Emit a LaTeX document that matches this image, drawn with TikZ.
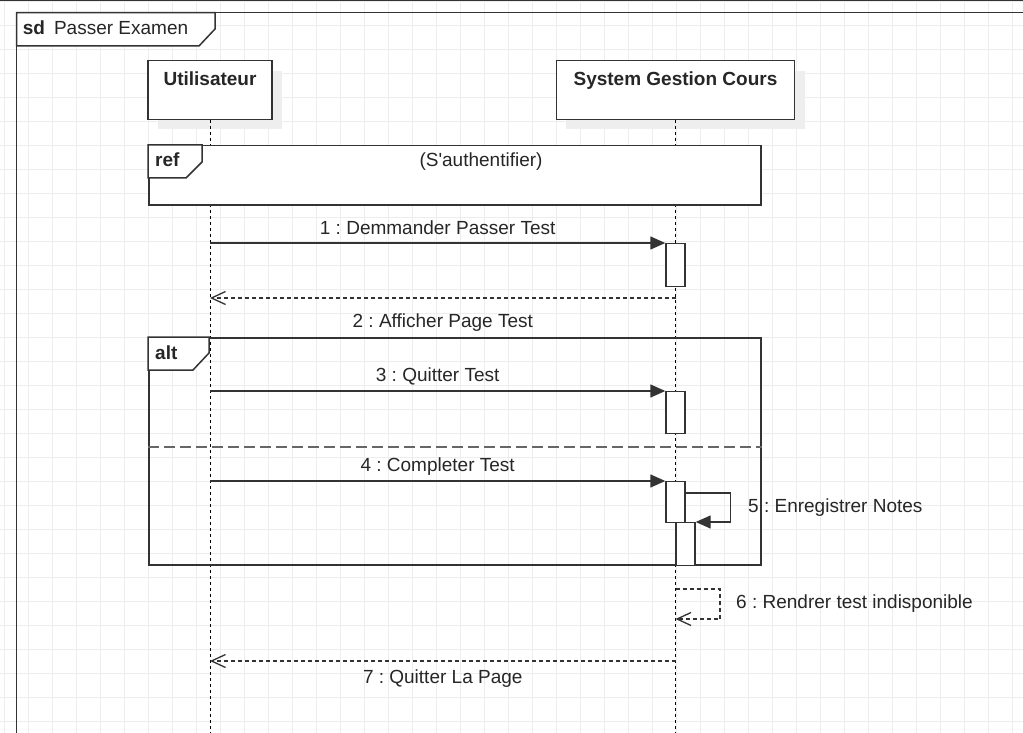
\documentclass[tikz,border=0pt]{standalone}
\usepackage{fontspec}
\setmainfont{Liberation Sans}
\usetikzlibrary{arrows.meta, positioning, calc, shadows}
\frenchspacing

\definecolor{framegray}{HTML}{333333}
\definecolor{gridgray}{HTML}{EDEDED}
\definecolor{shadowgray}{HTML}{EEEEEE}
\definecolor{sepgray}{HTML}{666666}

\begin{document}
\begin{tikzpicture}[x=1pt, y=-1pt, >=Stealth,
  umltext/.style={font=\fontsize{19}{23}\selectfont, text=black!85, inner sep=0pt, text height=13.7pt, text depth=0pt},
  umlbold/.style={umltext, font=\fontsize{19}{23}\selectfont\bfseries},
  actorbox/.style={draw=framegray, line width=1.5pt, fill=white, minimum height=58.6pt, inner sep=0pt,
    drop shadow={shadow xshift=10pt, shadow yshift=-10pt, fill=shadowgray, opacity=1}},
  actbar/.style={draw=framegray, line width=1.4pt, fill=white, minimum width=19pt, inner sep=0pt, anchor=north},
  lifeline/.style={black, line width=1pt, dash pattern=on 3pt off 3pt},
  fragframe/.style={draw=framegray, line width=1.5pt, inner sep=0pt, anchor=north west},
  fragtab/.style={draw=framegray, line width=1.5pt, fill=white},
  sepline/.style={sepgray, line width=2pt, dash pattern=on 11pt off 5pt},
  callmsg/.style={-{Triangle[length=15pt,width=13pt]}, line width=1.4pt, draw=framegray},
  replymsg/.style={-{Straight Barb[length=14pt,width=13pt]}, line width=1.3pt, draw=framegray, dash pattern=on 4pt off 3pt},
  gridline/.style={gridgray, line width=0.8pt}
]
\useasboundingbox (0,0) rectangle (1023,733);
\coordinate (bottom) at (0,733);

% Background grid
\foreach \k in {0,...,42}
  \draw[gridline] ({4.7+24*\k},0) -- ({4.7+24*\k},733);
\foreach \k in {0,...,30}
  \draw[gridline] (0,{1.3+24*\k}) -- (1023,{1.3+24*\k});

% Canvas edge and sd frame
\draw[framegray, line width=1.2pt] (0,0.6) -- (1023,0.6);
\draw[framegray, line width=1.5pt] (1023,12.7) -- (16.5,12.7) -- (16.5,733);
\draw[fragtab] (16.5,12.7) -- (215,12.7) -- (215,29) -- (199,46) -- (16.5,46) -- cycle;
\node[umltext, anchor=west] (sdlbl) at (22.7,28) {\textbf{sd}\hspace{9pt}Passer Examen};

% Participants
\node[actorbox, minimum width=124.3pt] (user) at (210,90) {};
\node[actorbox, minimum width=238.3pt] (sys) at (675.5,90) {};
\node[umlbold] (userlbl) at (210,79) {Utilisateur};
\node[umlbold] (syslbl) at (675.5,79) {System Gestion Cours};

% Lifelines
\draw[lifeline] (user.south) -- (user.south |- bottom);
\draw[lifeline] (sys.south) -- (sys.south |- bottom);

% ref fragment
\node[fragframe, fill=white, minimum width=612pt, minimum height=59pt] (reffrag) at (148,145) {};
\draw[fragtab] (reffrag.north west) -- ++(54,0) -- ++(0,17) -- ++(-16,16) -- ++(-38,0) -- cycle;
\node[umlbold, anchor=west] (reflbl) at (155,160) {ref};
\node[umltext] (refname) at (481,160) {(S\textquotesingle authentifier)};

% alt fragment
\node[fragframe, minimum width=612pt, minimum height=227pt] (altfrag) at (148,337) {};
\draw[fragtab] (altfrag.north west) -- ++(61,0) -- ++(0,16) -- ++(-16,17) -- ++(-45,0) -- cycle;
\node[umlbold, anchor=west] (altlbl) at (155,353) {alt};
\draw[sepline] ($(altfrag.north west)+(0,110)$) -- ($(altfrag.north east)+(0,110)$);

% Activation bars
\node[actbar, minimum height=43pt] (act1) at (675.5,243) {};
\node[actbar, minimum height=42pt] (act3) at (675.5,391) {};
\node[actbar, minimum height=41pt] (act4) at (675.5,481) {};
\node[actbar, minimum height=43pt] (act5) at (685.5,522) {};

% Messages
\draw[callmsg] (user |- act1.north) -- (act1.north west)
  node[umltext, midway, above=8pt] (lbl1) {1 : Demmander Passer Test};

\coordinate (ret2) at (675.5,298);
\draw[replymsg] (ret2) -- (user |- ret2)
  node[umltext, midway, below=15pt] (lbl2) {2 : Afficher Page Test};

\draw[callmsg] (user |- act3.north) -- (act3.north west)
  node[umltext, midway, above=9pt] (lbl3) {3 : Quitter Test};

\draw[callmsg] (user |- act4.north) -- (act4.north west)
  node[umltext, midway, above=9pt] (lbl4) {4 : Completer Test};

% Self call 5
\draw[callmsg] ($(act4.north east)+(0,12)$) -- ++(45,0) |- (act5.north east);
\node[umltext, anchor=west] (lbl5) at (748,506) {5 : Enregistrer Notes};

% Self reply 6
\coordinate (self6) at (675.5,589);
\draw[replymsg] (self6) -- ++(44.5,0) -- ++(0,30) -- ++(-44.5,0);
\node[umltext, anchor=west] (lbl6) at (736,602) {6 : Rendrer test indisponible};

\coordinate (ret7) at (675.5,661);
\draw[replymsg] (ret7) -- (user |- ret7)
  node[umltext, midway, below=8pt] (lbl7) {7 : Quitter La Page};
\end{tikzpicture}
\end{document}
